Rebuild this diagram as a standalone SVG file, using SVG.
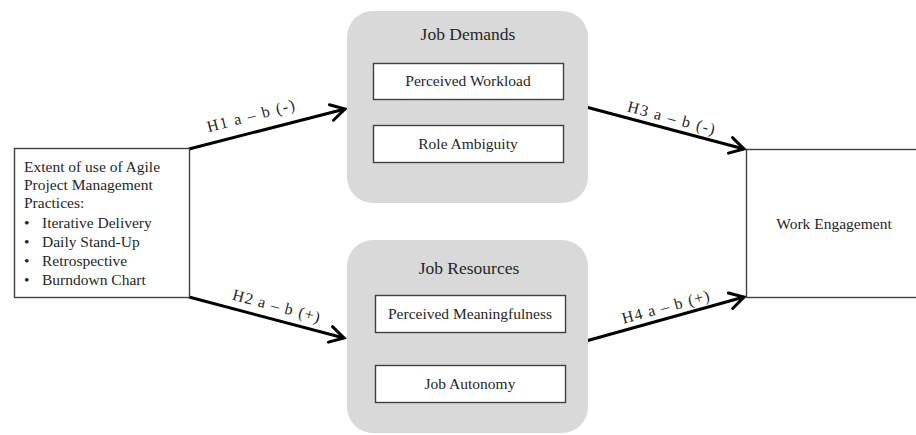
<svg xmlns="http://www.w3.org/2000/svg" width="916" height="435" viewBox="0 0 916 435">
<defs>
<style>
text{font-family:"Liberation Serif","Times New Roman",serif;fill:#262626}
.body{font-size:15.5px}
.title{font-size:17.5px}
.lbl{font-size:16px;text-anchor:middle}
.box{fill:#fff;stroke:#404040;stroke-width:1.4}
.grp{fill:#d9d9d9}
.arr{fill:none;stroke:#000;stroke-width:3;marker-end:url(#head)}
</style>
<marker id="head" markerUnits="userSpaceOnUse" markerWidth="24" markerHeight="24" viewBox="-20 -12 24 24" refX="0" refY="0" orient="auto">
<path d="M-14,-8 L0,0 L-14,8" fill="none" stroke="#000" stroke-width="3" stroke-linecap="round" stroke-linejoin="miter"/>
</marker>
</defs>
<rect width="916" height="435" fill="#fff"/>
<g id="connectors">
<line class="arr" x1="189" y1="149" x2="345" y2="109"/>
<line class="arr" x1="189" y1="297" x2="344" y2="338"/>
<line class="arr" x1="586" y1="107" x2="744" y2="149"/>
<line class="arr" x1="586" y1="341" x2="744" y2="297"/>
<text class="lbl" transform="translate(252,121) rotate(-14.6)" textLength="90" lengthAdjust="spacing">H1 a – b (-)</text>
<text class="lbl" transform="translate(275,311) rotate(14.8)" textLength="90" lengthAdjust="spacing">H2 a – b (+)</text>
<text class="lbl" transform="translate(670,123) rotate(15)" textLength="90" lengthAdjust="spacing">H3 a – b (-)</text>
<text class="lbl" transform="translate(667,312) rotate(-15)" textLength="90" lengthAdjust="spacing">H4 a – b (+)</text>
</g>
<g id="agile">
<rect class="box" x="14.5" y="148.5" width="175" height="149"/>
<text class="body" x="24" y="172">Extent of use of Agile</text>
<text class="body" x="24" y="190">Project Management</text>
<text class="body" x="24" y="208">Practices:</text>
<text class="body" x="24" y="228">•</text><text class="body" x="42" y="228">Iterative Delivery</text>
<text class="body" x="24" y="247">•</text><text class="body" x="42" y="247">Daily Stand-Up</text>
<text class="body" x="24" y="266">•</text><text class="body" x="42" y="266">Retrospective</text>
<text class="body" x="24" y="285">•</text><text class="body" x="42" y="285">Burndown Chart</text>
</g>
<g id="job-demands">
<rect class="grp" x="347" y="11" width="241" height="192" rx="26"/>
<text class="title" x="468" y="40" text-anchor="middle">Job Demands</text>
</g>
<g id="perceived-workload">
<rect class="box" x="373.5" y="63.5" width="190" height="36"/>
<text class="body" x="468" y="86" text-anchor="middle">Perceived Workload</text>
</g>
<g id="role-ambiguity">
<rect class="box" x="373.5" y="125.5" width="190" height="37"/>
<text class="body" x="468" y="149" text-anchor="middle">Role Ambiguity</text>
</g>
<g id="job-resources">
<rect class="grp" x="347" y="240" width="241" height="193" rx="26"/>
<text class="title" x="469" y="274" text-anchor="middle">Job Resources</text>
</g>
<g id="perceived-meaningfulness">
<rect class="box" x="375.5" y="295.5" width="190" height="37"/>
<text class="body" x="470" y="319" text-anchor="middle">Perceived Meaningfulness</text>
</g>
<g id="job-autonomy">
<rect class="box" x="375.5" y="365.5" width="190" height="37"/>
<text class="body" x="470" y="389" text-anchor="middle">Job Autonomy</text>
</g>
<g id="work-engagement">
<rect class="box" x="746.5" y="149.5" width="175" height="148"/>
<text class="body" x="834" y="229" text-anchor="middle">Work Engagement</text>
</g>
</svg>
